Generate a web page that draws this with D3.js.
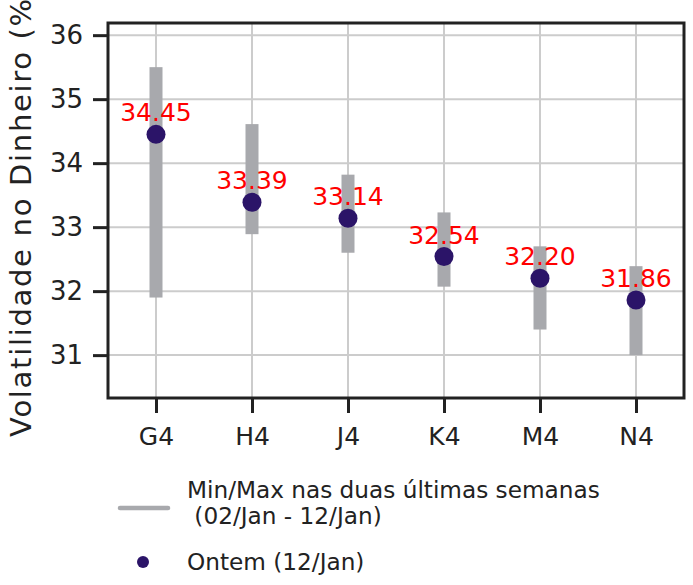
<!DOCTYPE html>
<html><head><meta charset="utf-8">
<script src="https://cdn.jsdelivr.net/npm/d3@7"></script>
<style>body{margin:0;background:#fff}svg{display:block}</style>
</head><body>
<script>
const categories = ["G4","H4","J4","K4","M4","N4"];
const minValues = [31.90, 32.89, 32.60, 32.07, 31.40, 31.00];
const maxValues = [35.50, 34.61, 33.82, 33.23, 32.70, 32.39];
const lastValues = [34.45, 33.39, 33.14, 32.54, 32.20, 31.86];
const yTicks = [31, 32, 33, 34, 35, 36];
const yLabel = "Volatilidade no Dinheiro (%)";
const legendLabels = ["Min/Max nas duas últimas semanas", " (02/Jan - 12/Jan)", "Ontem (12/Jan)"];

const W = 693, H = 585;
const m = {left:108, right:9, top:23, bottom:187};
const font = "DejaVu Sans";
const svg = d3.select("body").append("svg").attr("width", W).attr("height", H)
  .style("font-family", font);

const x = d3.scalePoint().domain(categories).range([m.left, W - m.right]).padding(0.5);
const y = d3.scaleLinear().domain([30.33, 36.19]).range([H - m.bottom, m.top]);
const bottom = H - m.bottom;

// grid
svg.append("g").selectAll("line").data(yTicks).join("line")
  .attr("x1", m.left).attr("x2", W - m.right)
  .attr("y1", d => y(d)).attr("y2", d => y(d))
  .attr("stroke", "#cccccc").attr("stroke-width", 2);
svg.append("g").selectAll("line").data(categories).join("line")
  .attr("x1", d => x(d)).attr("x2", d => x(d))
  .attr("y1", m.top).attr("y2", bottom)
  .attr("stroke", "#cccccc").attr("stroke-width", 2);

// bars
svg.append("g").selectAll("rect").data(categories).join("rect")
  .attr("x", d => x(d) - 6.5).attr("width", 13)
  .attr("y", (d,i) => y(maxValues[i]))
  .attr("height", (d,i) => y(minValues[i]) - y(maxValues[i]))
  .attr("fill", "#a8a9ad");

// dots
svg.append("g").selectAll("circle").data(categories).join("circle")
  .attr("cx", d => x(d)).attr("cy", (d,i) => y(lastValues[i]))
  .attr("r", 9.5).attr("fill", "#2b1468");

// value labels
svg.append("g").selectAll("text").data(categories).join("text")
  .attr("x", d => x(d)).attr("y", (d,i) => y(lastValues[i]) - 13)
  .attr("text-anchor", "middle").attr("fill", "#ff0000")
  .style("font-size", "25px")
  .text((d,i) => lastValues[i].toFixed(2));

// axes
const yAxis = d3.axisLeft(y).tickValues(yTicks).tickSize(15).tickPadding(10).tickFormat(d3.format("d"));
const gy = svg.append("g").attr("transform", `translate(${m.left},0)`).call(yAxis);
const xAxis = d3.axisBottom(x).tickSize(15).tickPadding(14);
const gx = svg.append("g").attr("transform", `translate(0,${bottom})`).call(xAxis);
[gy, gx].forEach(g => {
  g.select(".domain").remove();
  g.selectAll(".tick line").attr("stroke", "#222").attr("stroke-width", 3);
  g.selectAll(".tick text").attr("fill", "#222").style("font-family", font);
});
gy.selectAll(".tick text").style("font-size", "26px");
gx.selectAll(".tick text").style("font-size", "25px");

// frame
svg.append("rect").attr("x", m.left).attr("y", m.top)
  .attr("width", W - m.right - m.left).attr("height", bottom - m.top)
  .attr("fill", "none").attr("stroke", "#222").attr("stroke-width", 3);

// y label
svg.append("text")
  .attr("transform", `translate(31,${(m.top + bottom)/2}) rotate(-90)`)
  .attr("text-anchor", "middle").attr("fill", "#222")
  .style("font-size", "29px").style("letter-spacing", "1.7px").text(yLabel);

// legend
const lg = svg.append("g");
lg.append("line").attr("x1", 120).attr("x2", 168).attr("y1", 508).attr("y2", 508)
  .attr("stroke", "#a8a9ad").attr("stroke-width", 4.5).attr("stroke-linecap", "round");
lg.append("text").attr("x", 187).attr("y", 498).attr("fill", "#222").style("font-size", "23.2px").text(legendLabels[0]);
lg.append("text").attr("x", 187).attr("y", 524).attr("fill", "#222").style("font-size", "23.2px")
  .attr("xml:space", "preserve").style("white-space", "pre").text(legendLabels[1]);
lg.append("circle").attr("cx", 143).attr("cy", 562).attr("r", 6).attr("fill", "#2b1468");
lg.append("text").attr("x", 187).attr("y", 570).attr("fill", "#222").style("font-size", "23.2px").text(legendLabels[2]);
</script>
</body></html>
